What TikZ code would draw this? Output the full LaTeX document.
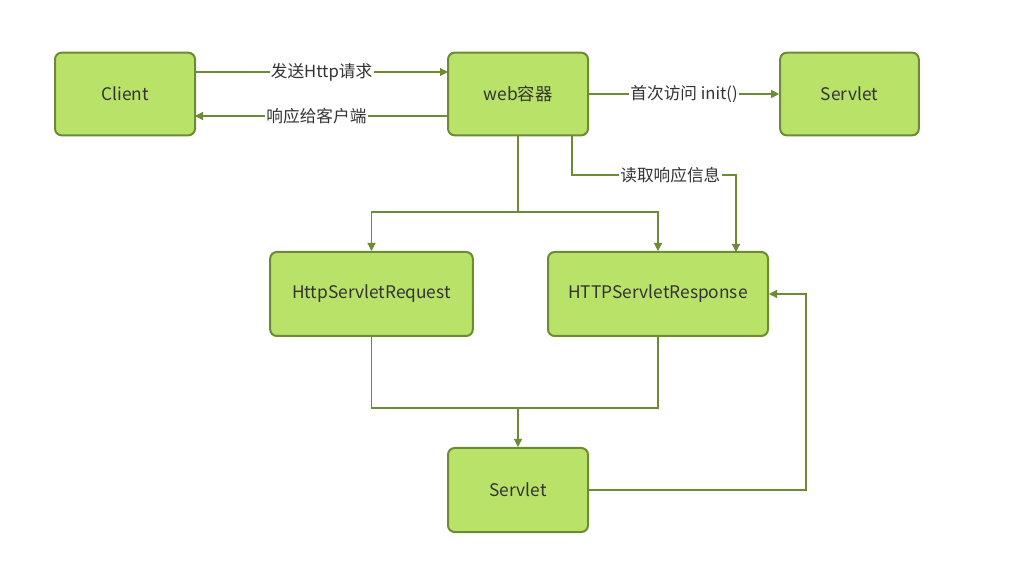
\documentclass[tikz,border=0pt]{standalone}
\usepackage{fontspec}
\setmainfont{Noto Sans CJK SC}
\usetikzlibrary{arrows.meta}
\definecolor{fillg}{HTML}{B9E268}
\definecolor{strk}{HTML}{6D8B35}
\definecolor{txt}{HTML}{333333}
\begin{document}
\begin{tikzpicture}[x=0.75pt,y=-0.75pt,
 box/.style={draw=strk,line width=1.5pt,fill=fillg,rounded corners=5pt,text=txt,font=\fontsize{13}{15}\selectfont},
 ar/.style={draw=strk,line width=0.9pt,-{Triangle[length=6pt,width=6pt]}},
 ln/.style={draw=strk,line width=0.9pt},
 lb/.style={fill=white,text=txt,font=\fontsize{12.5}{14}\selectfont,inner sep=1pt}]
\useasboundingbox (0,0) rectangle (1021,573);
\node[box,minimum width=105pt,minimum height=62pt] (client) at (125,94) {Client};
\node[box,minimum width=105pt,minimum height=62pt] (web) at (518,94) {web容器};
\node[box,minimum width=104pt,minimum height=62pt] (sv1) at (849.5,94) {Servlet};
\node[box,minimum width=152pt,minimum height=63pt] (req) at (371.5,294) {HttpServletRequest};
\node[box,minimum width=165pt,minimum height=63pt] (resp) at (658,294) {HTTPServletResponse};
\node[box,minimum width=105pt,minimum height=63pt] (sv2) at (518,490) {Servlet};
\coordinate (a1) at (195,72); \coordinate (a2) at (448,72);
\draw[ar] (a1) -- node[lb]{发送Http请求} (a2);
\coordinate (b1) at (448,116); \coordinate (b2) at (195,116);
\draw[ar] (b1) -- node[lb,pos=0.52]{响应给客户端} (b2);
\draw[ar] (web.east) -- node[lb,pos=0.5]{首次访问 init()} (sv1.west);
\coordinate (j) at (518,212);
\draw[ln] (web.south) -- (j);
\draw[ar] (j) -| (req.north);
\draw[ar] (j) -| (resp.north);
\coordinate (w2) at (572,135); \coordinate (w3) at (572,175); \coordinate (w4) at (736,175); \coordinate (w5) at (736,252);
\draw[ar] (w2) -- (w3) -- node[lb,pos=0.6]{读取响应信息} (w4) -- (w5);
\coordinate (k) at (518,408);
\draw[ln] (req.south) |- (k);
\draw[ln] (resp.south) |- (k);
\draw[ar] (k) -- (sv2.north);
\coordinate (m) at (806,490);
\draw[ar] (sv2.east) -- (m) |- (resp.east);
\end{tikzpicture}
\end{document}
